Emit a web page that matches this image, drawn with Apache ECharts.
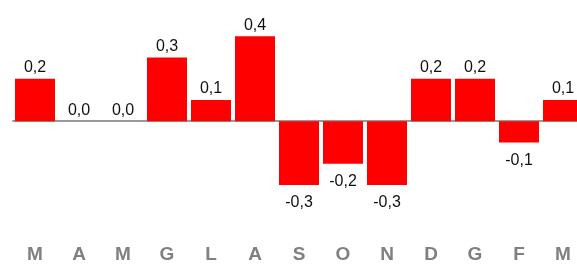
<!DOCTYPE html>
<html>
<head>
<meta charset="utf-8">
<script src="https://cdn.jsdelivr.net/npm/echarts@6/dist/echarts.min.js"></script>
<style>html,body{margin:0;padding:0;background:#fff;overflow:hidden;}#c{width:600px;height:264px;}</style>
</head>
<body>
<div id="c"></div>
<script>
var categories = ['M','A','M','G','L','A','S','O','N','D','G','F','M'];
var values = [0.2, 0.0, 0.0, 0.3, 0.1, 0.4, -0.3, -0.2, -0.3, 0.2, 0.2, -0.1, 0.1];

var narrow = '"Liberation Sans Narrow", "Arial Narrow", "Liberation Sans", Arial, sans-serif';
var chart = echarts.init(document.getElementById('c'), null, {renderer: 'canvas'});
chart.setOption({
  animation: false,
  grid: {left: 13, width: 572, top: 15, height: 194.85},
  xAxis: [
    {type: 'category', data: categories, axisLine: {onZero: true, lineStyle: {color: '#999', width: 2}},
     axisTick: {show: false}, axisLabel: {show: false}, splitLine: {show: false}},
    {type: 'category', data: categories, position: 'bottom', axisLine: {show: false, onZero: false},
     axisTick: {show: false}, splitLine: {show: false},
     axisLabel: {margin: 38.75, color: '#808080', fontWeight: 'bold', fontSize: 19, fontFamily: narrow}}
  ],
  yAxis: {type: 'value', min: -0.4, max: 0.5, show: false, splitLine: {show: false}},
  series: [{
    type: 'bar', xAxisIndex: 0, barCategoryGap: '9.1%',
    itemStyle: {color: '#ff0000'},
    data: values.map(function (v) {
      return {value: v, label: {position: v < 0 ? 'bottom' : 'top', distance: v < 0 ? 10 : 3}};
    }),
    label: {show: true, color: '#111', fontSize: 16, fontFamily: narrow,
      formatter: function (p) { return p.value.toFixed(1).replace('.', ','); }}
  }]
});
</script>
</body>
</html>
